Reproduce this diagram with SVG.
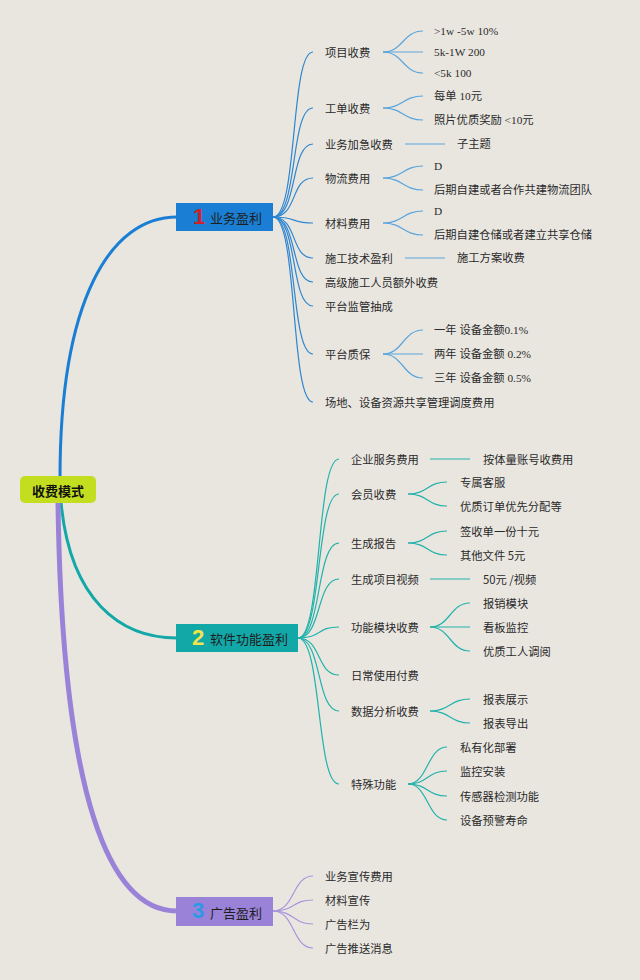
<svg xmlns="http://www.w3.org/2000/svg" width="640" height="980" viewBox="0 0 640 980">
<style>
text{font-family:"Noto Sans CJK SC","Noto Sans",sans-serif;font-size:11.3px;fill:#2a2a2a;dominant-baseline:central}
.sf{font-family:"Liberation Serif","Noto Sans CJK SC",serif}
.b1{fill:none;stroke:#2f86d0;stroke-width:1.2}
.l1{fill:none;stroke:#5aa5dc;stroke-width:1.2}
.b2{fill:none;stroke:#22b2ab;stroke-width:1.2}
.b3{fill:none;stroke:#a895dc;stroke-width:1.2}
.bt{font-size:13px;fill:#1e1e1e}
.num{font-size:22px;font-weight:bold;font-family:"Liberation Sans",sans-serif}
</style>
<rect width="640" height="980" fill="#e9e6e0"/>
<g id="connectors">
  <path d="M60,478 C60,300 110,217 177,217" fill="none" stroke="#1a7fd4" stroke-width="3"/>
  <path d="M61,502 C70,600 120,638 177,638" fill="none" stroke="#13a8a8" stroke-width="3"/>
  <path d="M58,502 C62,800 110,911 177,911" fill="none" stroke="#9a82d8" stroke-width="5"/>
  <path class="b1" d="M273,217 C298,217 290,52 313,52"/>
  <path class="b1" d="M273,217 C298,217 290,108 313,108"/>
  <path class="b1" d="M273,217 C298,217 290,144 313,144"/>
  <path class="b1" d="M273,217 C298,217 290,178 313,178"/>
  <path class="b1" d="M273,217 C298,217 290,223 313,223"/>
  <path class="b1" d="M273,217 C298,217 290,258 313,258"/>
  <path class="b1" d="M273,217 C298,217 290,282 313,282"/>
  <path class="b1" d="M273,217 C298,217 290,306 313,306"/>
  <path class="b1" d="M273,217 C298,217 290,354 313,354"/>
  <path class="b1" d="M273,217 C298,217 290,402 313,402"/>
  <path class="l1" d="M383,52 C403,52 403,31 423,31"/>
  <path class="l1" d="M383,52 L423,52"/>
  <path class="l1" d="M383,52 C403,52 403,73 423,73"/>
  <path class="l1" d="M383,108 C403,108 403,96 423,96"/>
  <path class="l1" d="M383,108 C403,108 403,120 423,120"/>
  <path class="l1" d="M405,144 L445,144"/>
  <path class="l1" d="M383,178 C403,178 403,166 423,166"/>
  <path class="l1" d="M383,178 C403,178 403,190 423,190"/>
  <path class="l1" d="M383,223 C403,223 403,211 423,211"/>
  <path class="l1" d="M383,223 C403,223 403,235 423,235"/>
  <path class="l1" d="M405,258 L445,258"/>
  <path class="l1" d="M383,354 C403,354 403,330 423,330"/>
  <path class="l1" d="M383,354 L423,354"/>
  <path class="l1" d="M383,354 C403,354 403,378 423,378"/>
  <path class="b2" d="M298,638 C322,638 316,459 339,459"/>
  <path class="b2" d="M298,638 C322,638 316,494 339,494"/>
  <path class="b2" d="M298,638 C322,638 316,543 339,543"/>
  <path class="b2" d="M298,638 C322,638 316,579 339,579"/>
  <path class="b2" d="M298,638 C322,638 316,627 339,627"/>
  <path class="b2" d="M298,638 C322,638 316,675 339,675"/>
  <path class="b2" d="M298,638 C322,638 316,711 339,711"/>
  <path class="b2" d="M298,638 C322,638 316,784 339,784"/>
  <path class="b2" d="M430,459 L470,459"/>
  <path class="b2" d="M408,494 C428,494 427,482 447,482"/>
  <path class="b2" d="M408,494 C428,494 427,506 447,506"/>
  <path class="b2" d="M408,543 C428,543 427,531 447,531"/>
  <path class="b2" d="M408,543 C428,543 427,555 447,555"/>
  <path class="b2" d="M430,579 L470,579"/>
  <path class="b2" d="M430,627 C450,627 450,603 470,603"/>
  <path class="b2" d="M430,627 L470,627"/>
  <path class="b2" d="M430,627 C450,627 450,651 470,651"/>
  <path class="b2" d="M430,711 C450,711 450,699 470,699"/>
  <path class="b2" d="M430,711 C450,711 450,723 470,723"/>
  <path class="b2" d="M408,784 C428,784 427,747 447,747"/>
  <path class="b2" d="M408,784 C428,784 427,771 447,771"/>
  <path class="b2" d="M408,784 C428,784 427,796 447,796"/>
  <path class="b2" d="M408,784 C428,784 427,820 447,820"/>
  <path class="b3" d="M273,911 C295,911 292,876 313,876"/>
  <path class="b3" d="M273,911 C295,911 292,900 313,900"/>
  <path class="b3" d="M273,911 C295,911 292,924 313,924"/>
  <path class="b3" d="M273,911 C295,911 292,948 313,948"/>
</g>
<g id="root">
  <rect x="20" y="476" width="76" height="27" rx="5" fill="#c3dd1f"/>
  <text x="58" y="490" text-anchor="middle" style="font-size:13px;font-weight:bold;fill:#111">收费模式</text>
</g>
<g id="branch1">
  <rect x="176" y="203" width="97" height="28" fill="#1a7fd4"/>
  <text x="199" y="216" class="num" text-anchor="middle" style="fill:#d0202a">1</text>
  <text x="210" y="217" class="bt">业务盈利</text>
</g>
<g id="branch2">
  <rect x="176" y="624" width="122" height="28" fill="#13a8a8"/>
  <text x="198" y="637" class="num" text-anchor="middle" style="fill:#f2e44a">2</text>
  <text x="210" y="638" class="bt">软件功能盈利</text>
</g>
<g id="branch3">
  <rect x="176" y="897" width="97" height="29" fill="#9a82d8"/>
  <text x="198" y="910" class="num" text-anchor="middle" style="fill:#2a9ae6">3</text>
  <text x="210" y="912" class="bt">广告盈利</text>
</g>
<g id="b1-children">
  <text x="325" y="52">项目收费</text>
  <text x="325" y="108">工单收费</text>
  <text x="325" y="144">业务加急收费</text>
  <text x="325" y="178">物流费用</text>
  <text x="325" y="223">材料费用</text>
  <text x="325" y="258">施工技术盈利</text>
  <text x="325" y="282">高级施工人员额外收费</text>
  <text x="325" y="306">平台监管抽成</text>
  <text x="325" y="354">平台质保</text>
  <text x="325" y="402">场地、设备资源共享管理调度费用</text>
</g>
<g id="b1-leaves">
  <text class="sf" x="434" y="31">&gt;1w -5w 10%</text>
  <text class="sf" x="434" y="52">5k-1W 200</text>
  <text class="sf" x="434" y="73">&lt;5k 100</text>
  <text class="sf" x="434" y="96">每单 10元</text>
  <text class="sf" x="434" y="120">照片优质奖励 &lt;10元</text>
  <text class="sf" x="457" y="144">子主题</text>
  <text class="sf" x="434" y="166">D</text>
  <text class="sf" x="434" y="190">后期自建或者合作共建物流团队</text>
  <text class="sf" x="434" y="211">D</text>
  <text class="sf" x="434" y="235">后期自建仓储或者建立共享仓储</text>
  <text class="sf" x="457" y="258">施工方案收费</text>
  <text class="sf" x="434" y="330">一年 设备金额0.1%</text>
  <text class="sf" x="434" y="354">两年 设备金额 0.2%</text>
  <text class="sf" x="434" y="378">三年 设备金额 0.5%</text>
</g>
<g id="b2-children">
  <text x="351" y="459">企业服务费用</text>
  <text x="351" y="494">会员收费</text>
  <text x="351" y="543">生成报告</text>
  <text x="351" y="579">生成项目视频</text>
  <text x="351" y="627">功能模块收费</text>
  <text x="351" y="675">日常使用付费</text>
  <text x="351" y="711">数据分析收费</text>
  <text x="351" y="784">特殊功能</text>
</g>
<g id="b2-leaves">
  <text x="483" y="459">按体量账号收费用</text>
  <text x="460" y="482">专属客服</text>
  <text x="460" y="506">优质订单优先分配等</text>
  <text x="460" y="531">签收单一份十元</text>
  <text x="460" y="555">其他文件 5元</text>
  <text x="483" y="579">50元 /视频</text>
  <text x="483" y="603">报销模块</text>
  <text x="483" y="627">看板监控</text>
  <text x="483" y="651">优质工人调阅</text>
  <text x="483" y="699">报表展示</text>
  <text x="483" y="723">报表导出</text>
  <text x="460" y="747">私有化部署</text>
  <text x="460" y="771">监控安装</text>
  <text x="460" y="796">传感器检测功能</text>
  <text x="460" y="820">设备预警寿命</text>
</g>
<g id="b3-children">
  <text x="325" y="876">业务宣传费用</text>
  <text x="325" y="900">材料宣传</text>
  <text x="325" y="924">广告栏为</text>
  <text x="325" y="948">广告推送消息</text>
</g>
</svg>
